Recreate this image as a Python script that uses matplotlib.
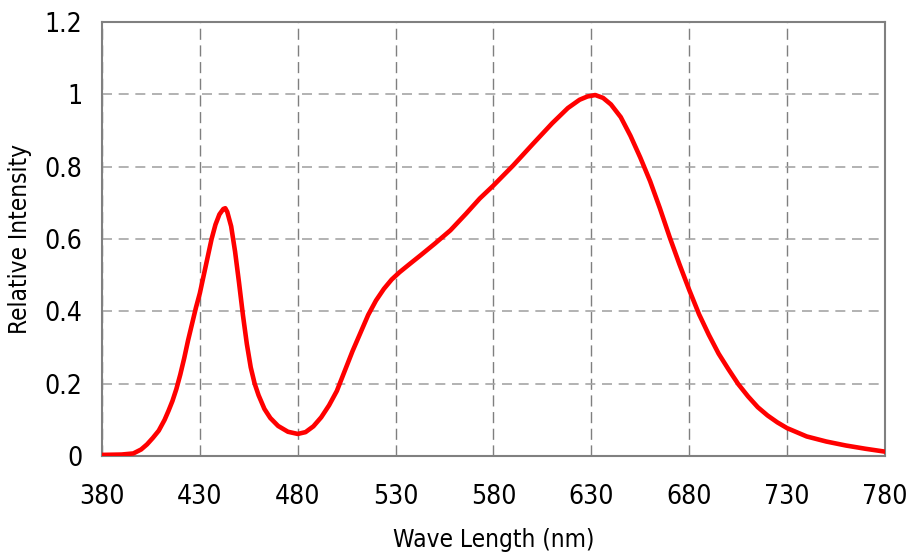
import matplotlib
matplotlib.use("Agg")
import matplotlib.pyplot as plt

# Spectrum
wavelength = [380, 390, 396, 400, 403, 406, 409, 412, 414, 416, 418, 420, 422, 424,
              426, 428, 430, 432, 434, 436, 438, 440, 442, 443, 444, 446, 448, 450,
              452, 454, 456, 458, 460, 463, 466, 470, 475, 480, 484, 488, 492, 496,
              500, 504, 508, 512, 516, 520, 524, 528, 532, 537, 543, 550, 558, 566,
              573, 580, 590, 600, 610, 618, 624, 628, 632, 636, 640, 645, 650, 655,
              660, 665, 670, 675, 680, 685, 690, 695, 700, 705, 710, 715, 720, 725,
              730, 740, 750, 760, 770, 780]
intensity = [0.003, 0.004, 0.007, 0.018, 0.032, 0.050, 0.070, 0.100, 0.125, 0.152,
             0.185, 0.225, 0.270, 0.320, 0.365, 0.410, 0.450, 0.500, 0.550, 0.600,
             0.640, 0.668, 0.683, 0.685, 0.675, 0.635, 0.565, 0.480, 0.390, 0.310,
             0.245, 0.200, 0.168, 0.130, 0.105, 0.083, 0.067, 0.061, 0.066, 0.082,
             0.107, 0.140, 0.180, 0.235, 0.290, 0.340, 0.390, 0.430, 0.462, 0.488,
             0.508, 0.530, 0.556, 0.587, 0.624, 0.670, 0.712, 0.748, 0.803, 0.862,
             0.920, 0.962, 0.985, 0.994, 0.998, 0.990, 0.972, 0.937, 0.885, 0.825,
             0.760, 0.685, 0.605, 0.530, 0.459, 0.392, 0.335, 0.283, 0.240, 0.199,
             0.165, 0.135, 0.112, 0.093, 0.077, 0.054, 0.040, 0.029, 0.020, 0.012]

x_ticks = [380, 430, 480, 530, 580, 630, 680, 730, 780]
y_ticks = [0, 0.2, 0.4, 0.6, 0.8, 1.0, 1.2]
y_tick_labels = ["0", "0.2", "0.4", "0.6", "0.8", "1", "1.2"]

plt.rcParams["font.family"] = "DejaVu Sans"
plt.rcParams["font.stretch"] = "condensed"

fig = plt.figure(figsize=(9.12, 5.55), dpi=100)
ax = fig.add_axes([0.1118, 0.1784, 0.8586, 0.782])

ax.plot(wavelength, intensity, color="#ff0000", linewidth=3.3, solid_capstyle="round",
        solid_joinstyle="round", zorder=3)

ax.set_xlim(380, 780)
ax.set_ylim(0, 1.2)
ax.set_xticks(x_ticks)
ax.set_yticks(y_ticks)
ax.set_yticklabels(y_tick_labels)

ax.grid(axis="y", color="#a6a6a6", linestyle=(0, (6, 4)), linewidth=1.2)
ax.grid(axis="x", color="#7f7f7f", linestyle=(0, (8, 4)), linewidth=1.0)

for spine in ax.spines.values():
    spine.set_color("#808080")
    spine.set_linewidth(1.5)

ax.tick_params(axis="both", length=0, labelsize=19, colors="black")
ax.tick_params(axis="x", pad=20)
ax.tick_params(axis="y", pad=14)

ax.set_xlabel("Wave Length (nm)", fontsize=17.5, labelpad=13)
ax.set_ylabel("Relative Intensity", fontsize=17.5, labelpad=9)

fig.savefig("out.png", dpi=100)
